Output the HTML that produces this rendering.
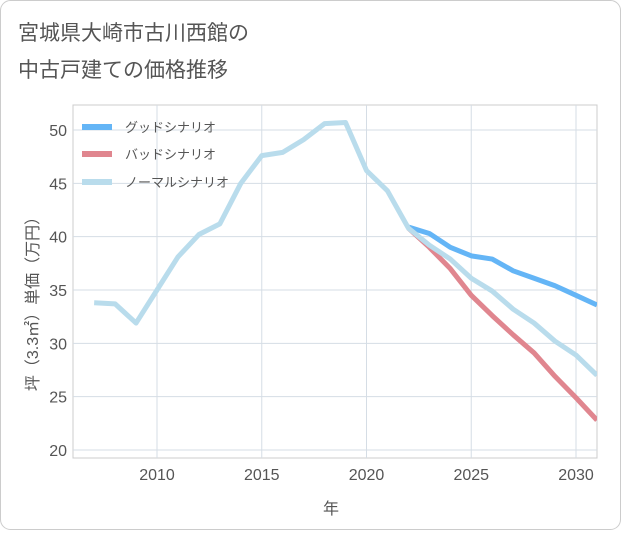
<!DOCTYPE html>
<html><head><meta charset="utf-8"><style>
body{margin:0;background:#fff;font-family:"Liberation Sans","Noto Sans CJK JP",sans-serif}
</style></head><body>
<svg width="621" height="530" xmlns="http://www.w3.org/2000/svg" font-family="Liberation Sans, Noto Sans CJK JP, sans-serif">
<rect x="0.5" y="0.5" width="620" height="529" rx="10" fill="#fff" stroke="#ccc"/>
<text x="18" y="40" font-size="21" fill="#555">宮城県大崎市古川西館の</text>
<text x="18" y="77" font-size="21" fill="#555">中古戸建ての価格推移</text>
<g id="grid"></g>
<g id="marks"></g>
<g id="legend"></g>
<text x="331" y="514" font-size="16" fill="#555" text-anchor="middle">年</text>
<text transform="translate(38,300) rotate(-90)" font-size="16" fill="#555" text-anchor="middle">坪（3.3㎡）単価（万円）</text>
</svg>
<script>
const years=[2007,2008,2009,2010,2011,2012,2013,2014,2015,2016,2017,2018,2019,2020,2021,2022,2023,2024,2025,2026,2027,2028,2029,2030,2031];
const normal=[33.8,33.7,31.9,35,38.1,40.2,41.2,45,47.6,47.9,49.1,50.6,50.7,46.2,44.3,40.8,39.2,37.9,36.1,34.9,33.2,31.9,30.2,28.9,27];
const goodYears=[2022,2023,2024,2025,2026,2027,2028,2029,2030,2031];
const good=[40.9,40.3,39,38.2,37.9,36.8,36.1,35.4,34.5,33.6];
const bad=[40.8,39,37,34.5,32.6,30.8,29.1,26.9,24.9,22.8];
const xTicks=[2010,2015,2020,2025,2030];
const yTicks=[20,25,30,35,40,45,50];
const L=73,R=597,T=105,B=458;
const xs=y=>157+(y-2010)*(576-157)/20;
const ys=v=>450-(v-20)*(320/30);
const NS="http://www.w3.org/2000/svg";
function mk(t,a,p){const e=document.createElementNS(NS,t);for(const k in a)e.setAttribute(k,a[k]);p.appendChild(e);return e;}
const g=document.getElementById('grid'),m=document.getElementById('marks'),lg=document.getElementById('legend');
const fr=mk('rect',{x:L,y:T,width:R-L,height:B-T,fill:'none',stroke:'#ccc'},g);


xTicks.forEach(t=>{const x=xs(t);
const l=mk('line',{x1:x,x2:x,y1:T,y2:B,stroke:'#d5dde5'},g);


const tx=mk('text',{x:x,y:B+22,'font-size':16,fill:'#555','text-anchor':'middle'},g);tx.textContent=t;

});
yTicks.forEach(t=>{const y=ys(t);
const l=mk('line',{x1:L,x2:R,y1:y,y2:y,stroke:'#d5dde5'},g);


const tx=mk('text',{x:L-6,y:y+6,'font-size':16,fill:'#555','text-anchor':'end'},g);tx.textContent=t;

});
const cp=mk('clipPath',{id:'cp'},m);mk('rect',{x:L,y:T,width:R-L,height:B-T},cp);
function line(xv,yv,c,name){const p=mk('polyline',{points:xv.map((x,i)=>xs(x)+','+ys(yv[i])).join(' '),fill:'none',stroke:c,'stroke-width':5,'stroke-linejoin':'round','clip-path':'url(#cp)'},m);

}
line(goodYears,bad,'#e0868f','bad-scenario-line');
line(goodYears,good,'#64b5f6','good-scenario-line');
line(years,normal,'#b9dcec','normal-scenario-line');
[['グッドシナリオ','#64b5f6',127],['バッドシナリオ','#e0868f',154],['ノーマルシナリオ','#b9dcec',182]].forEach(([t,c,y])=>{
const s=mk('line',{x1:82,x2:112,y1:y,y2:y,stroke:c,'stroke-width':6},lg);


const tx=mk('text',{x:125,y:y+5,'font-size':13,fill:'#555'},lg);tx.textContent=t;

});
</script>
</body></html>
